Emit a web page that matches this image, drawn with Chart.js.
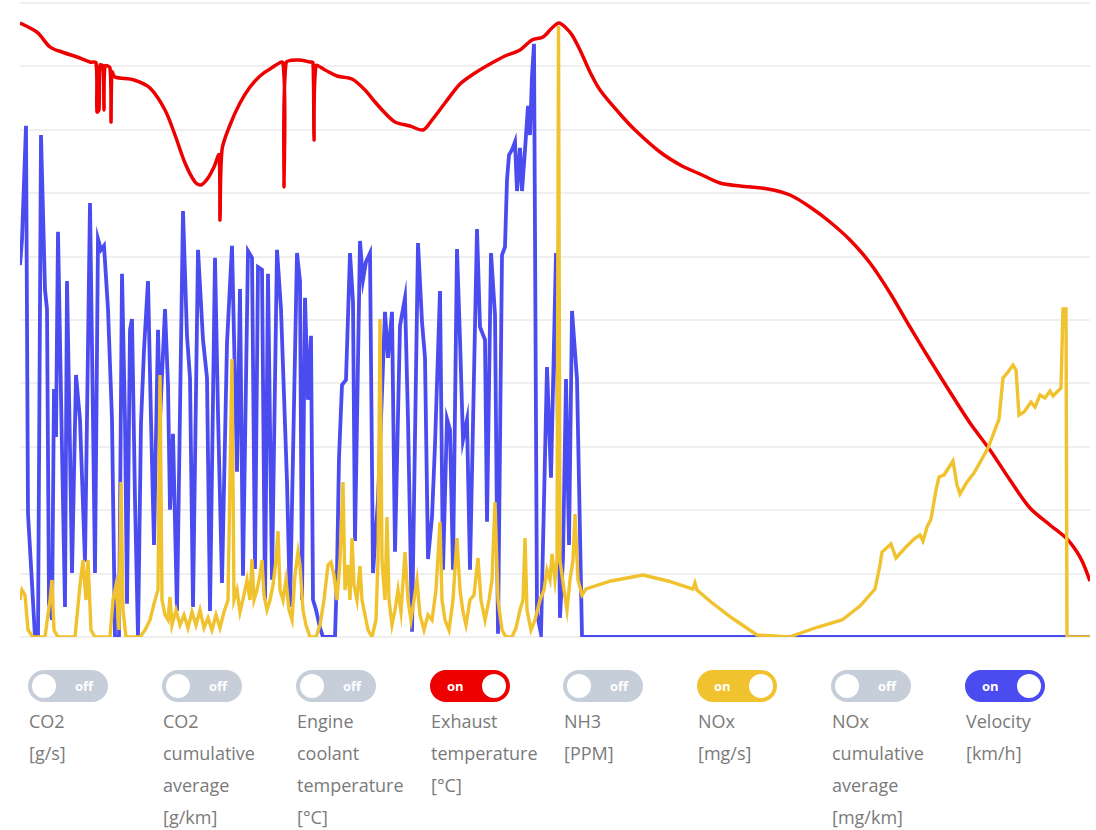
<!DOCTYPE html>
<html>
<head>
<meta charset="utf-8">
<script src="https://cdn.jsdelivr.net/npm/chart.js@4.4.0/dist/chart.umd.min.js"></script>
<style>
  html, body { margin: 0; padding: 0; background: #fff; }
  body { width: 1096px; height: 830px; position: relative; overflow: hidden; font-family: "Open Sans", "Noto Sans", sans-serif; }
  #chartBox { position: absolute; left: 0; top: 0; width: 1096px; height: 650px; }
  #legend { position: absolute; left: 0; top: 670px; width: 1096px; height: 160px; }
  .item { position: absolute; top: 0; width: 132px; }
  .toggle { position: relative; width: 80px; height: 32px; border-radius: 16px; background: #c6ced9; }
  .toggle .knob { position: absolute; top: 4px; width: 24px; height: 24px; border-radius: 50%; background: #fff; }
  .toggle .txt { position: absolute; top: 0; line-height: 32px; font-size: 13px; font-weight: 700; color: #fff; }
  .label { margin-top: 3px; font-size: 18px; line-height: 32px; color: #7a7a7a; padding-left: 1px; white-space: nowrap; }
</style>
</head>
<body>
<div id="chartBox"><canvas id="chart"></canvas></div>
<div id="legend"></div>
<script>
// time axis in seconds
const velocityTime = [0, 4, 12, 16, 22, 30, 36, 42, 50, 54, 58, 64, 68, 72, 76, 84, 90, 94, 100, 104, 112, 120, 130, 140, 146, 150, 156, 162, 168, 176, 184, 190, 198, 204, 210, 214, 220, 224, 230, 236, 242, 248, 256, 262, 268, 276, 280, 290, 296, 300, 306, 314, 326, 334, 340, 346, 356, 366, 374, 380, 390, 396, 404, 414, 424, 434, 440, 446, 456, 464, 470, 476, 484, 490, 496, 504, 514, 522, 534, 540, 554, 560, 564, 570, 576, 582, 586, 592, 600, 606, 630, 634, 638, 644, 652, 660, 666, 670, 680, 686, 692, 700, 706, 716, 730, 736, 744, 750, 760, 770, 776, 784, 796, 804, 810, 816, 824, 830, 840, 846, 854, 860, 866, 874, 880, 886, 894, 900, 914, 920, 930, 934, 942, 950, 956, 964, 970, 974, 978, 984, 990, 994, 1000, 1004, 1010, 1016, 1020, 1024, 1028, 1034, 1042, 1054, 1062, 1072, 1080, 1086, 1092, 1098, 1104, 1114, 1124, 2140];
const velocityKmh = [93, 99.3, 127.8, 30.8, 17.8, 0, 0, 125.5, 86.8, 82, 8.3, 4.3, 62, 50, 101.3, 46.8, 7.5, 89, 46.8, 16, 65.5, 54.3, 18.8, 108.5, 54.3, 16, 99.5, 96.8, 97.8, 82, 54.3, 0, 0, 90.8, 54.3, 8.3, 76.8, 79.5, 34.3, 0, 53.5, 71.8, 89, 54.3, 23, 76.8, 54.3, 82, 63, 31.8, 50.8, 6.5, 106.5, 75.3, 64.8, 7.5, 96.8, 74.3, 64.8, 6.5, 94.8, 56, 13.5, 73.5, 97.8, 41.3, 87, 15.3, 96.5, 94.8, 17, 92.5, 91.8, 9.3, 90.8, 14.3, 96.8, 82, 38.8, 7.5, 96, 89, 9.3, 84.8, 59.3, 75.3, 9.3, 6.8, 2.3, 0, 0, 16, 44.8, 63, 64.3, 96, 83.8, 24, 99, 89.3, 93.8, 96, 16, 34.3, 81.3, 69.8, 81.3, 21.3, 77.8, 84.8, 54.3, 1.3, 98.5, 78.8, 69.8, 19.5, 30, 48, 86.5, 16.8, 54.5, 51.8, 16.8, 97, 74.3, 49.3, 54.3, 16.8, 102, 77.5, 74.3, 28.8, 96, 80.5, 0.8, 95.5, 97.5, 114.3, 120.5, 121.8, 123.8, 111.5, 122.3, 111.5, 121.8, 132.8, 125.5, 140.3, 148.3, 5.8, 0.8, 67.5, 39.8, 96, 4.8, 19.8, 64.5, 23, 81.5, 64.5, 0, 0];

const noxTime = [0, 4, 10, 16, 26, 50, 60, 64, 68, 76, 110, 120, 126, 132, 136, 142, 150, 180, 186, 192, 198, 202, 206, 212, 240, 250, 260, 270, 276, 280, 284, 290, 296, 300, 304, 312, 320, 328, 336, 344, 352, 360, 368, 376, 384, 392, 400, 408, 416, 424, 428, 434, 440, 448, 454, 460, 464, 468, 474, 480, 484, 488, 494, 500, 506, 512, 516, 520, 526, 532, 538, 544, 550, 556, 560, 566, 572, 580, 592, 600, 608, 616, 622, 628, 634, 640, 646, 650, 656, 660, 664, 668, 674, 680, 684, 690, 696, 704, 712, 716, 720, 724, 730, 734, 738, 744, 750, 756, 762, 770, 776, 782, 788, 794, 800, 808, 816, 824, 832, 840, 844, 850, 858, 866, 874, 880, 886, 892, 900, 908, 916, 922, 930, 938, 944, 950, 956, 964, 972, 984, 992, 1000, 1006, 1010, 1014, 1022, 1030, 1040, 1048, 1054, 1060, 1064, 1070, 1074, 1077, 1080, 1088, 1094, 1100, 1106, 1110, 1116, 1124, 1132, 1182, 1246, 1296, 1346, 1350, 1354, 1382, 1424, 1474, 1538, 1596, 1644, 1680, 1710, 1720, 1724, 1742, 1752, 1770, 1788, 1800, 1806, 1814, 1822, 1832, 1838, 1848, 1866, 1874, 1880, 1894, 1908, 1936, 1958, 1966, 1976, 1986, 1992, 1998, 2008, 2022, 2030, 2040, 2050, 2060, 2066, 2082, 2086, 2092, 2094, 2140];
const noxMgs = [3.7, 4.7, 4.2, 0.7, 0, 0, 3.7, 5.7, 0.7, 0, 0, 5.2, 7.7, 3.7, 7.7, 0.7, 0, 0, 3.7, 5.2, 0.7, 15.5, 2.7, 0, 0, 0.7, 1.7, 3.7, 4.7, 26.2, 3.7, 2.2, 1.7, 4, 1.2, 2.7, 1.2, 2.2, 0.9, 2.5, 1.2, 2.7, 0.9, 1.9, 0.7, 2.2, 0.9, 2.5, 3.7, 27.8, 3.7, 4.7, 2.5, 4.2, 5.7, 3.7, 7.8, 3.7, 4.7, 6.2, 7.7, 4.2, 2.7, 3.7, 5.2, 7.7, 10.6, 4.7, 3.7, 5.7, 2.7, 1.7, 6.2, 8.5, 7.2, 2.7, 1.2, 0, 0, 1.2, 3.7, 7.2, 7.5, 6.2, 3.7, 7.7, 15.5, 4.7, 7.2, 3.7, 9.9, 5.2, 3.7, 7.1, 3.7, 2.2, 0.7, 0, 1.7, 7.7, 31.8, 7.7, 3.7, 12, 3.7, 1.2, 2.7, 4.7, 2.5, 8.5, 3.7, 1.7, 3.7, 5.7, 2.2, 0.7, 2.2, 1.7, 4.7, 11.5, 3.7, 1.7, 0.7, 3.7, 9.9, 4.7, 2.5, 1.2, 3.7, 4.2, 7.9, 3.7, 1.7, 3.7, 5.7, 13.5, 3.7, 0.7, 0, 0, 0.9, 2.7, 3.7, 9.9, 2.7, 0.7, 1.7, 3.7, 4.7, 6.7, 5.7, 8.3, 5.7, 7.7, 61.1, 7.7, 4.7, 2.7, 5.7, 7.7, 12.3, 5.7, 4.2, 4.8, 5.6, 6.2, 5.6, 4.8, 5.4, 4.7, 3.5, 1.9, 0.2, 0, 1, 1.7, 3.1, 4.8, 7.2, 8.5, 9.3, 7.9, 8.9, 9.8, 10.2, 9.6, 11, 11.8, 14.7, 16, 16.2, 17.6, 15.2, 14.3, 15.5, 16.4, 18.9, 21.8, 25.9, 26.5, 27.2, 26.7, 22.2, 22.5, 23.5, 23, 24.2, 23.9, 24.6, 24.1, 24.9, 32.8, 32.8, 0, 0];

const exhaustTime = [0, 20, 36, 60, 84, 114, 140, 152, 154, 158, 160, 166, 168, 170, 180, 182, 184, 190, 228, 260, 290, 310, 330, 350, 362, 376, 388, 398, 400, 404, 420, 440, 460, 480, 500, 526, 528, 532, 556, 580, 586, 588, 592, 610, 634, 664, 690, 710, 730, 750, 780, 806, 824, 850, 880, 910, 940, 970, 1000, 1024, 1046, 1064, 1078, 1092, 1104, 1120, 1140, 1160, 1200, 1230, 1280, 1324, 1360, 1400, 1440, 1496, 1540, 1580, 1620, 1660, 1700, 1740, 1780, 1820, 1860, 1900, 1940, 1980, 2020, 2060, 2094, 2114, 2126, 2140];
const exhaustTemp = [614, 609, 604, 590, 585, 580, 575, 574, 525, 527, 572, 571, 527, 571, 569, 515, 565, 560, 557, 549, 527, 502, 474, 455, 452, 459, 470, 482, 417, 487, 512, 534, 550, 561, 568, 574, 450, 574, 577, 575, 574, 497, 571, 567, 561, 558, 547, 535, 524, 515, 511, 507, 517, 534, 553, 564, 573, 581, 587, 597, 600, 609, 614, 609, 602, 587, 565, 547, 523, 507, 485, 471, 463, 454, 451, 448, 442, 430, 415, 397, 374, 344, 310, 277, 245, 214, 187, 157, 129, 112, 98, 85, 74, 56];

const legendNames = [
  ['CO2', '[g/s]'],
  ['CO2', 'cumulative', 'average', '[g/km]'],
  ['Engine', 'coolant', 'temperature', '[°C]'],
  ['Exhaust', 'temperature', '[°C]'],
  ['NH3', '[PPM]'],
  ['NOx', '[mg/s]'],
  ['NOx', 'cumulative', 'average', '[mg/km]'],
  ['Velocity', '[km/h]']
];
const legendOn = [false, false, false, true, false, true, false, true];
const legendColors = ['#c6ced9', '#c6ced9', '#c6ced9', '#ee0000', '#c6ced9', '#f0c22e', '#c6ced9', '#4b4cf0'];
const legendLeft = [28, 162, 296, 430, 563, 697, 831, 965];

function toPoints(xs, ys) {
  return xs.map((x, i) => ({ x: x, y: ys[i] }));
}

new Chart(document.getElementById('chart').getContext('2d'), {
  type: 'line',
  data: {
    datasets: [
      {
        label: 'NOx [mg/s]',
        data: toPoints(noxTime, noxMgs),
        borderColor: '#f0c22e',
        borderWidth: 3.4,
        pointRadius: 0,
        tension: 0,
        yAxisID: 'yNox',
        order: 0
      },
      {
        label: 'Exhaust temperature [°C]',
        data: toPoints(exhaustTime, exhaustTemp),
        borderColor: '#ee0000',
        borderWidth: 3.5,
        pointRadius: 0,
        tension: 0.3,
        yAxisID: 'y',
        order: 1
      },
      {
        label: 'Velocity [km/h]',
        data: toPoints(velocityTime, velocityKmh),
        borderColor: '#4b4cf0',
        borderWidth: 3.8,
        pointRadius: 0,
        tension: 0,
        yAxisID: 'yVel',
        order: 2
      }
    ]
  },
  options: {
    responsive: true,
    maintainAspectRatio: false,
    animation: false,
    layout: { padding: { left: 20, right: 6, top: 3, bottom: 13 } },
    plugins: {
      legend: { display: false },
      tooltip: { enabled: false }
    },
    scales: {
      x: { type: 'linear', min: 0, max: 2140, display: false },
      y: {
        min: 0,
        max: 634,
        ticks: { display: false, count: 11 },
        border: { display: false },
        grid: { color: '#efefef', lineWidth: 2, drawTicks: false }
      },
      yNox: { min: 0, max: 63.4, display: false },
      yVel: { min: 0, max: 158.5, display: false }
    }
  }
});

// legend with toggle switches
const legend = document.getElementById('legend');
legendNames.forEach((lines, i) => {
  const item = document.createElement('div');
  item.className = 'item';
  item.style.left = legendLeft[i] + 'px';
  const on = legendOn[i];
  item.innerHTML =
    '<div class="toggle" style="background:' + legendColors[i] + '">' +
      '<span class="txt" style="left:' + (on ? 17 : 47) + 'px">' + (on ? 'on' : 'off') + '</span>' +
      '<span class="knob" style="left:' + (on ? 52 : 4) + 'px"></span>' +
    '</div>' +
    '<div class="label">' + lines.join('<br>') + '</div>';
  legend.appendChild(item);
});
</script>
</body>
</html>
